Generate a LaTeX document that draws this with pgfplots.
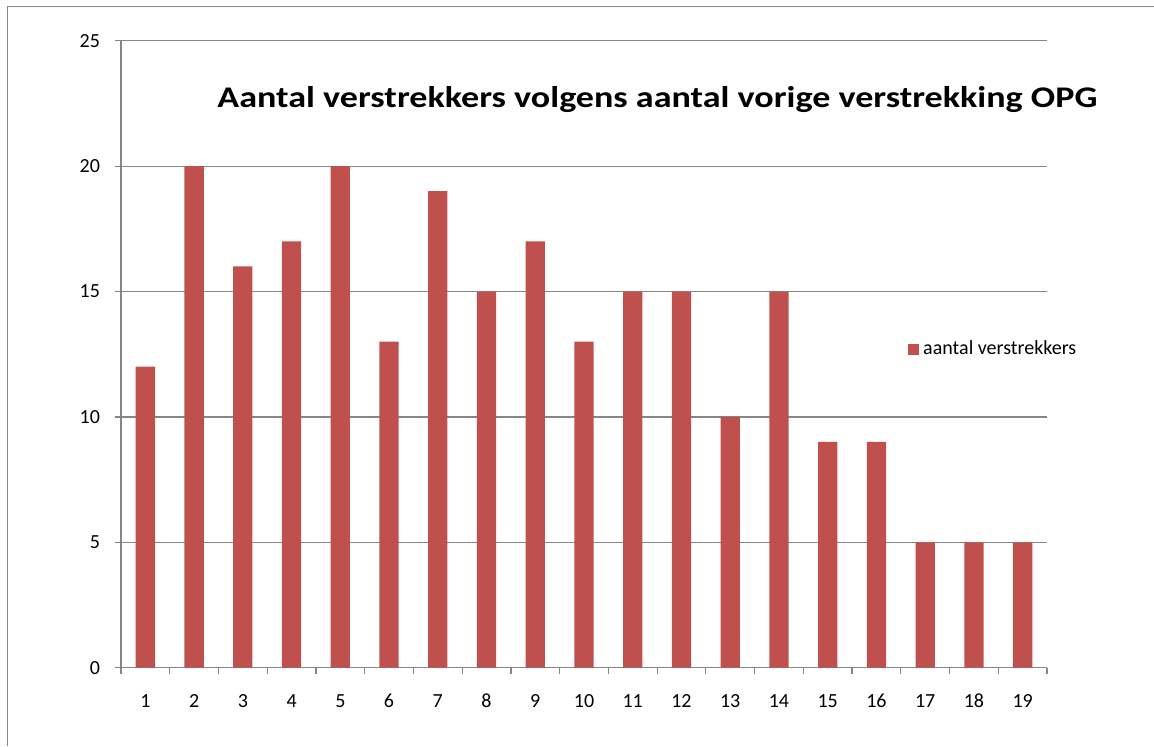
\documentclass[border=0pt]{standalone}
\usepackage{pgfplots}
\pgfplotsset{compat=1.18}
\usepackage{fontspec}
\setmainfont{Carlito}
\definecolor{barred}{HTML}{C0504D}
\definecolor{gridgray}{HTML}{868686}
\begin{document}
\begin{tikzpicture}[x=0.5pt,y=0.5pt]
\path[use as bounding box] (0,0) rectangle (1154,746);
\draw[gridgray,line width=0.9pt] (7.5,0) -- (7.5,739.5) -- (1154,739.5);
\begin{axis}[
  at={(60.5pt,39.15pt)}, anchor=south west,
  scale only axis, width=463pt, height=313.5pt,
  xmin=0.5, xmax=19.5, ymin=0, ymax=25,
  axis x line=bottom, axis y line=left,
  axis line style={-, gridgray, line width=0.6pt},
  xtick={1,...,19},
  minor xtick={0.5,1.5,...,19.5},
  ytick={0,5,...,25},
  ymajorgrids, major grid style={gridgray, line width=0.6pt},
  tick align=outside,
  major tick length=3pt, minor tick length=3pt,
  x tick style={draw=none},
  minor x tick style={draw=gridgray, line width=0.6pt},
  y tick style={gridgray, line width=0.6pt},
  tick label style={font=\fontsize{10}{11}\selectfont, text=black},
  yticklabel style={xshift=-4pt},
  xticklabel style={yshift=-6pt, text height=1.5ex, text depth=0pt},
  /pgf/number format/assume math mode=true,
  ybar, bar width=9.65pt,
  legend style={at={(0.843,0.508)}, anchor=west, draw=none, fill=none,
    font=\fontsize{10}{11}\selectfont},
  legend image code/.code={\fill[barred] (0pt,-2.8pt) rectangle (5.6pt,2.8pt);},
]
\addplot[fill=barred, draw=none] coordinates {
(1,12) (2,20) (3,16) (4,17) (5,20) (6,13) (7,19) (8,15) (9,17) (10,13)
(11,15) (12,15) (13,10) (14,15) (15,9) (16,9) (17,5) (18,5) (19,5)};
\addlegendentry{aantal verstrekkers}
\end{axis}
\node[anchor=base, inner sep=0pt] at (657.5,639) {\resizebox{440pt}{\height}{\fontsize{15}{17}\selectfont\bfseries Aantal verstrekkers volgens aantal vorige verstrekking OPG}};
\end{tikzpicture}
\end{document}
